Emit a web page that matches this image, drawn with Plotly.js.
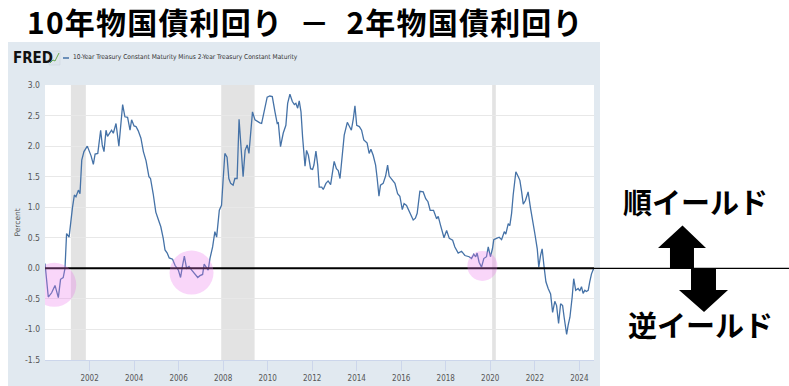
<!DOCTYPE html>
<html>
<head>
<meta charset="utf-8">
<script src="https://cdn.plot.ly/plotly-3.0.1.min.js"></script>
<style>
  html, body { margin: 0; padding: 0; background: #ffffff; }
  #chart { width: 789px; height: 386px; }
  #chart .gtitle { letter-spacing: 1.2px; }
</style>
</head>
<body>
<div id="chart"></div>
<script>
// ---- data (decimal year, percent) ----
const years = [
 2000.00,2000.15,2000.30,2000.45,2000.60,2000.70,2000.82,2000.90,2000.97,2001.08,
 2001.23,2001.32,2001.39,2001.50,2001.57,2001.65,2001.75,2001.90,2002.07,2002.17,
 2002.25,2002.37,2002.50,2002.57,2002.65,2002.74,2002.81,2002.99,2003.07,2003.19,
 2003.32,2003.40,2003.49,2003.59,2003.71,2003.82,2003.89,2004.00,2004.09,2004.19,
 2004.31,2004.42,2004.54,2004.67,2004.74,2004.86,2004.98,2005.09,2005.20,2005.31,
 2005.39,2005.49,2005.58,2005.73,2005.84,2005.99,2006.09,2006.18,2006.26,2006.36,
 2006.47,2006.59,2006.74,2006.86,2006.96,2007.08,2007.15,2007.26,2007.33,2007.41,
 2007.53,2007.63,2007.71,2007.83,2007.93,2008.00,2008.08,2008.18,2008.26,2008.34,
 2008.45,2008.53,2008.63,2008.72,2008.79,2008.90,2008.99,2009.08,2009.16,2009.25,
 2009.32,2009.43,2009.55,2009.65,2009.73,2009.80,2009.88,2009.98,2010.10,2010.21,
 2010.33,2010.43,2010.48,2010.58,2010.70,2010.82,2010.90,2011.00,2011.11,2011.20,
 2011.27,2011.35,2011.42,2011.50,2011.57,2011.68,2011.75,2011.83,2011.93,2012.02,
 2012.08,2012.17,2012.25,2012.32,2012.43,2012.50,2012.62,2012.72,2012.83,2012.92,
 2012.99,2013.09,2013.17,2013.25,2013.37,2013.44,2013.58,2013.67,2013.76,2013.85,
 2013.92,2014.00,2014.12,2014.22,2014.32,2014.41,2014.47,2014.56,2014.64,2014.74,
 2014.85,2014.92,2015.00,2015.07,2015.19,2015.30,2015.39,2015.46,2015.57,2015.72,
 2015.84,2015.94,2016.05,2016.13,2016.24,2016.34,2016.46,2016.54,2016.64,2016.72,
 2016.84,2016.99,2017.10,2017.20,2017.30,2017.45,2017.59,2017.66,2017.77,2017.92,
 2018.04,2018.16,2018.31,2018.41,2018.56,2018.71,2018.86,2019.05,2019.16,2019.26,
 2019.35,2019.41,2019.50,2019.61,2019.71,2019.83,2019.91,2020.01,2020.10,2020.16,
 2020.28,2020.40,2020.51,2020.63,2020.70,2020.81,2020.88,2020.96,2021.03,2021.15,
 2021.26,2021.33,2021.41,2021.48,2021.58,2021.70,2021.81,2021.93,2022.00,2022.11,
 2022.18,2022.26,2022.33,2022.41,2022.50,2022.60,2022.71,2022.80,2022.90,2022.98,
 2023.07,2023.16,2023.25,2023.32,2023.43,2023.50,2023.58,2023.68,2023.75,2023.84,
 2023.95,2024.02,2024.10,2024.17,2024.25,2024.32,2024.40,2024.47,2024.55,2024.65
];
const spread = [
 0.08,-0.47,-0.40,-0.28,-0.48,-0.18,-0.15,0.00,0.57,0.51,
 0.99,1.20,1.17,1.28,1.22,1.77,1.91,2.00,1.84,1.70,
 1.87,1.88,2.26,2.02,1.91,2.26,2.16,2.26,2.21,2.37,
 2.00,2.34,2.68,2.48,2.47,2.26,2.43,2.33,2.32,2.25,
 2.13,1.91,1.76,1.50,1.47,1.22,0.92,0.80,0.68,0.49,
 0.30,0.25,0.17,0.15,0.05,-0.03,-0.15,0.05,0.20,0.00,
 0.03,-0.03,-0.10,-0.15,-0.12,-0.10,0.07,0.02,-0.03,0.16,
 0.35,0.60,0.51,0.95,1.03,1.44,1.88,1.82,1.47,1.39,
 1.36,1.47,1.47,2.44,1.99,1.50,1.93,2.02,1.88,2.21,
 2.56,2.43,2.40,2.38,2.37,2.51,2.60,2.80,2.82,2.81,
 2.56,2.37,2.38,1.99,2.21,2.34,2.70,2.85,2.73,2.68,
 2.70,2.62,2.74,2.56,2.15,1.67,1.93,1.85,1.63,1.62,
 1.69,1.92,1.69,1.33,1.33,1.29,1.39,1.43,1.37,1.58,
 1.75,1.63,1.60,1.47,1.93,2.18,2.39,2.32,2.26,2.45,
 2.66,2.34,2.32,2.26,2.10,2.07,2.05,1.88,1.95,1.85,
 1.69,1.47,1.18,1.36,1.39,1.51,1.69,1.51,1.45,1.39,
 1.22,1.18,0.96,1.06,1.03,0.95,0.84,0.79,0.82,0.90,
 1.26,1.25,1.14,1.09,0.95,0.95,0.81,0.85,0.70,0.50,
 0.62,0.49,0.46,0.35,0.25,0.28,0.21,0.19,0.16,0.23,
 0.19,0.25,0.10,0.02,0.16,0.19,0.35,0.19,0.32,0.47,
 0.49,0.51,0.47,0.60,0.56,0.73,0.70,0.90,1.20,1.58,
 1.50,1.44,1.25,1.05,1.11,1.25,0.98,0.76,0.57,0.32,
 0.02,0.21,0.32,0.05,-0.22,-0.33,-0.42,-0.72,-0.54,-0.61,
 -0.90,-0.58,-0.61,-0.80,-1.08,-0.93,-0.80,-0.47,-0.17,-0.36,
 -0.33,-0.37,-0.30,-0.41,-0.36,-0.38,-0.36,-0.22,-0.09,0.00
];
const recStart = ['2001-03-01','2007-12-01','2020-02-01'];
const recEnd   = ['2001-11-01','2009-06-01','2020-04-01'];
const xTickVals = ['2002-01-01','2004-01-01','2006-01-01','2008-01-01','2010-01-01','2012-01-01',
                   '2014-01-01','2016-01-01','2018-01-01','2020-01-01','2022-01-01','2024-01-01'];
const xTickText = ['2002','2004','2006','2008','2010','2012','2014','2016','2018','2020','2022','2024'];
const yTickVals = [-1.5,-1.0,-0.5,0.0,0.5,1.0,1.5,2.0,2.5,3.0];
const yTickText = ['-1.5','-1.0','-0.5','0.0','0.5','1.0','1.5','2.0','2.5','3.0'];
// highlighted inversion periods (centre date, centre value, radius px)
const circleDates = ['2000-06-01','2006-08-01','2019-08-25'];
const circleVals  = [-0.27,-0.07,0.04];
const circleRad   = [22,22,15];

const titleText = '10年物国債利回り\u00A0\u00A0－\u00A0\u00A02年物国債利回り';
const seriesName = '10-Year Treasury Constant Maturity Minus 2-Year Treasury Constant Maturity';

// ---- helpers ----
function toDate(t){
  const y = Math.floor(t);
  const ms = Date.UTC(y,0,1) + (t - y) * 365.25 * 864e5;
  return new Date(ms).toISOString().slice(0,10);
}
const W = 789, H = 386;
const M = {l:45, r:195, t:85, b:26};
const PW = W - M.l - M.r, PH = H - M.t - M.b;
const px = x => (x - M.l) / PW;
const py = y => (H - M.b - y) / PH;
function path(pts){
  return pts.map((p,i)=> (i? 'L':'M') + px(p[0]).toFixed(4) + ',' + py(p[1]).toFixed(4)).join(' ') + ' Z';
}

const dates = years.map(toDate);

const shapes = [];
// FRED panel background
shapes.push({type:'rect', xref:'paper', yref:'paper', x0:px(8), x1:px(600), y0:py(386), y1:py(42),
  fillcolor:'#e1e9f0', line:{width:0}, layer:'below'});
// white plot area
shapes.push({type:'rect', xref:'paper', yref:'paper', x0:0, x1:1, y0:0, y1:1,
  fillcolor:'#ffffff', line:{width:0}, layer:'below'});
// recession bands
recStart.forEach((s,i)=>{
  shapes.push({type:'rect', xref:'x', yref:'paper', x0:s, x1:recEnd[i], y0:0, y1:1,
    fillcolor:'#e3e3e3', line:{width:0}, layer:'below'});
});
// FRED icon
shapes.push({type:'rect', xref:'paper', yref:'paper', x0:px(49), x1:px(60), y0:py(65), y1:py(51),
  fillcolor:'#dde5ec', line:{color:'#c8d2dc', width:0.5}, layer:'above'});
shapes.push({type:'path', xref:'paper', yref:'paper',
  path:'M'+px(50)+','+py(63)+' L'+px(53)+','+py(60)+' L'+px(55)+','+py(61)+' L'+px(59)+','+py(53),
  line:{color:'#6aa84f', width:1}, layer:'above'});
// legend dash
shapes.push({type:'line', xref:'paper', yref:'paper', x0:px(63), x1:px(69), y0:py(58), y1:py(58),
  line:{color:'#4572a7', width:1.5}, layer:'above'});
// zero line (inside plot and extended to the right)
shapes.push({type:'line', xref:'paper', yref:'y', x0:0, x1:1, y0:0, y1:0,
  line:{color:'#000000', width:2}, layer:'above'});
shapes.push({type:'line', xref:'paper', yref:'y', x0:1, x1:px(789), y0:0, y1:0,
  line:{color:'#000000', width:1.2}, layer:'above'});
// highlight circles
circleDates.forEach((d,i)=>{
  shapes.push({type:'circle', xref:'x', yref:'y', xsizemode:'pixel', ysizemode:'pixel',
    xanchor:d, yanchor:circleVals[i], x0:-circleRad[i], x1:circleRad[i], y0:-circleRad[i], y1:circleRad[i],
    fillcolor:'rgba(236,120,236,0.30)', line:{width:0}, layer:'above'});
});
// arrows
shapes.push({type:'path', xref:'paper', yref:'paper',
  path: path([[682.5,225.5],[706,248],[694,248],[694,269],[670,269],[670,248],[658,248]]),
  fillcolor:'#000000', line:{width:0}, layer:'above'});
shapes.push({type:'path', xref:'paper', yref:'paper',
  path: path([[691,268],[716,268],[716,290],[728,290],[704,312],[679,290],[691,290]]),
  fillcolor:'#000000', line:{width:0}, layer:'above'});

const narrow = '"Liberation Sans Narrow", "DejaVu Sans Condensed", "Arial Narrow", sans-serif';
const jp = '"Noto Sans CJK JP", "Noto Sans CJK SC", sans-serif';

const annotations = [
  {xref:'paper', yref:'paper', x:px(11), y:py(58), xanchor:'left', yanchor:'middle',
   text:'<b>FRED</b>', showarrow:false, font:{family:narrow, size:15, color:'#111111'}},
  {xref:'paper', yref:'paper', x:px(71), y:py(57.5), xanchor:'left', yanchor:'middle',
   text:seriesName, showarrow:false, font:{family:narrow, size:6.6, color:'#333333'}},
  {xref:'paper', yref:'paper', x:px(17), y:0.5, xanchor:'center', yanchor:'middle', textangle:-90,
   text:'Percent', showarrow:false, font:{family:'"DejaVu Sans", sans-serif', size:7.5, color:'#555555'}},
  {xref:'paper', yref:'paper', x:px(695), y:py(201), xanchor:'center', yanchor:'middle',
   text:'<b>順イールド</b>', showarrow:false, font:{family:jp, size:29, color:'#000000'}},
  {xref:'paper', yref:'paper', x:px(700), y:py(324), xanchor:'center', yanchor:'middle',
   text:'<b>逆イールド</b>', showarrow:false, font:{family:jp, size:29, color:'#000000'}}
];

const trace = {
  x: dates, y: spread, type:'scatter', mode:'lines', name: seriesName,
  line:{color:'#4572a7', width:1.3}, hoverinfo:'skip'
};

const layout = {
  width: W, height: H,
  margin: M,
  paper_bgcolor:'#ffffff', plot_bgcolor:'rgba(0,0,0,0)',
  showlegend:false,
  title:{text:'<b>'+titleText+'</b>', xref:'container', yref:'container', x:27/W, xanchor:'left',
    y:1-23.5/H, yanchor:'middle', font:{family:jp, size:30, color:'#000000'}},
  xaxis:{type:'date', range:['2000-01-01','2024-08-29'], showgrid:false, zeroline:false,
    tickvals:xTickVals, ticktext:xTickText, ticks:'outside', ticklen:10, tickwidth:1,
    tickcolor:'#ccd6eb', showline:true, linecolor:'#ccd6eb', linewidth:1,
    tickfont:{family:narrow, size:8, color:'#555555'}},
  yaxis:{range:[-1.5,3.0], tickvals:yTickVals, ticktext:yTickText, showgrid:true, gridcolor:'#e8e8e8',
    gridwidth:1, zeroline:false, showline:false, ticks:'', ticklabelstandoff:4,
    tickfont:{family:narrow, size:8.5, color:'#555555'}},
  shapes: shapes,
  annotations: annotations
};

Plotly.newPlot('chart', [trace], layout, {staticPlot:true, displayModeBar:false});
</script>
</body>
</html>
